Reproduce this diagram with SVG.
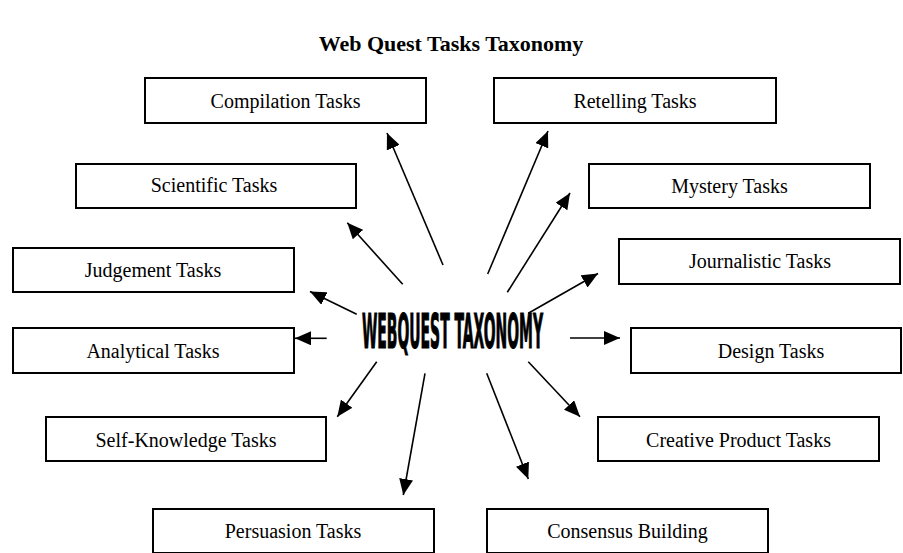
<svg xmlns="http://www.w3.org/2000/svg" width="903" height="553" viewBox="0 0 903 553">
<style>
.box{fill:#fff;stroke:#000;stroke-width:2}
.lbl{font-family:"Liberation Serif","Times New Roman",serif;font-size:20px;fill:#000;text-anchor:middle}
.title{font-family:"Liberation Serif","Times New Roman",serif;font-size:22px;font-weight:bold;fill:#000;text-anchor:middle}
.conn line{stroke:#000;stroke-width:1.6;marker-end:url(#ah)}
.center{font-family:"DejaVu Sans Condensed","DejaVu Sans",sans-serif;font-weight:bold;font-size:24px;fill:#000;stroke:#000;stroke-width:0.6}
</style>
<defs>
<marker id="ah" markerUnits="userSpaceOnUse" markerWidth="17" markerHeight="14" refX="16" refY="7" orient="auto">
<path d="M0,0 L16,7 L0,14 z" fill="#000"/>
</marker>
</defs>
<text class="title" x="451" y="51">Web Quest Tasks Taxonomy</text>
<g id="center">
<text class="center" transform="scale(1,2)" x="362" y="174" textLength="181" lengthAdjust="spacingAndGlyphs">WEBQUEST TAXONOMY</text>
</g>
<g id="compilation"><rect class="box" x="145" y="78" width="281" height="45"/><text class="lbl" x="285.5" y="108">Compilation Tasks</text></g>
<g id="retelling"><rect class="box" x="494" y="78" width="282" height="45"/><text class="lbl" x="635" y="108">Retelling Tasks</text></g>
<g id="scientific"><rect class="box" x="76" y="164" width="280" height="44"/><text class="lbl" x="214" y="192">Scientific Tasks</text></g>
<g id="mystery"><rect class="box" x="589" y="164" width="281" height="44"/><text class="lbl" x="729.5" y="193">Mystery Tasks</text></g>
<g id="judgement"><rect class="box" x="13" y="248" width="281" height="44"/><text class="lbl" x="153" y="277">Judgement Tasks</text></g>
<g id="journalistic"><rect class="box" x="619" y="239" width="281" height="45"/><text class="lbl" x="760" y="268">Journalistic Tasks</text></g>
<g id="analytical"><rect class="box" x="13" y="328" width="281" height="45"/><text class="lbl" x="153" y="358">Analytical Tasks</text></g>
<g id="design"><rect class="box" x="631" y="328" width="270" height="45"/><text class="lbl" x="771" y="358">Design Tasks</text></g>
<g id="selfknowledge"><rect class="box" x="46" y="417" width="280" height="44"/><text class="lbl" x="186" y="447">Self-Knowledge Tasks</text></g>
<g id="creative"><rect class="box" x="598" y="417" width="281" height="44"/><text class="lbl" x="738.5" y="447">Creative Product Tasks</text></g>
<g id="persuasion"><rect class="box" x="153" y="509" width="281" height="44"/><text class="lbl" x="293" y="538">Persuasion Tasks</text></g>
<g id="consensus"><rect class="box" x="487" y="509" width="281" height="44"/><text class="lbl" x="627.5" y="538">Consensus Building</text></g>
<g id="connectors" class="conn">
<line x1="443" y1="265" x2="387" y2="133"/>
<line x1="487.7" y1="274" x2="548" y2="131"/>
<line x1="402.7" y1="284.3" x2="347.3" y2="222.7"/>
<line x1="507.3" y1="292.3" x2="570" y2="193"/>
<line x1="356.7" y1="314.3" x2="310" y2="291.5"/>
<line x1="528.3" y1="313.3" x2="598" y2="273.5"/>
<line x1="326.7" y1="338.3" x2="295" y2="338.3"/>
<line x1="570" y1="338" x2="620" y2="338"/>
<line x1="376.7" y1="361.7" x2="337.3" y2="416.7"/>
<line x1="528.3" y1="361.7" x2="580" y2="416.7"/>
<line x1="425" y1="373.3" x2="403.3" y2="495"/>
<line x1="486.7" y1="373.3" x2="528.3" y2="479"/>
</g>
</svg>
